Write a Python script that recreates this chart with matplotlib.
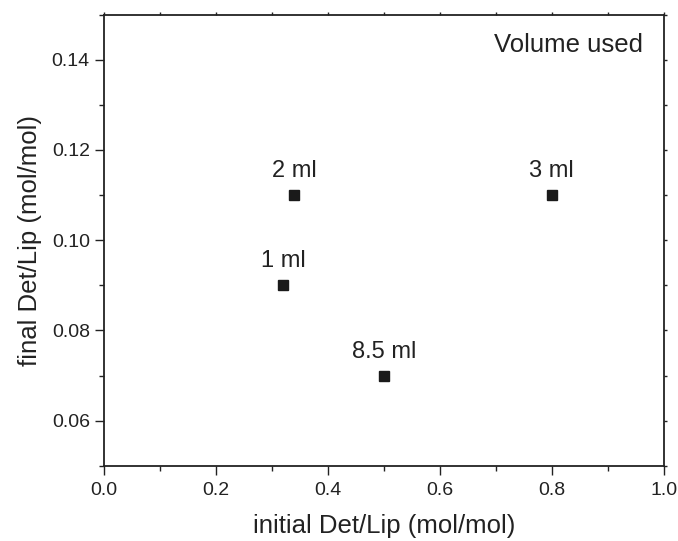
import matplotlib
matplotlib.use("Agg")
import matplotlib.pyplot as plt
from matplotlib.ticker import MultipleLocator

plt.rcParams['font.family'] = ['Liberation Sans', 'DejaVu Sans']

initial = [0.32, 0.34, 0.50, 0.80]
final = [0.09, 0.11, 0.07, 0.11]
labels = ["1 ml", "2 ml", "8.5 ml", "3 ml"]

fig = plt.figure(figsize=(6.78, 5.41), dpi=100)
ax = fig.add_axes([0.153, 0.139, 0.826, 0.834])
ax.plot(initial, final, linestyle='none', marker='s', markersize=7, color='#1a1a1a')
for x, y, t in zip(initial, final, labels):
    ax.annotate(t, (x, y), xytext=(0, 13), textcoords='offset points',
                ha='center', va='baseline', fontsize=17, color='#222222')

ax.text(0.963, 0.917, "Volume used", transform=ax.transAxes, ha='right', va='baseline',
        fontsize=18.5, color='#222222')

ax.set_xlim(0.0, 1.0)
ax.set_ylim(0.05, 0.15)
ax.xaxis.set_major_locator(MultipleLocator(0.2))
ax.xaxis.set_minor_locator(MultipleLocator(0.1))
ax.yaxis.set_minor_locator(MultipleLocator(0.01))
ax.set_yticks([0.06, 0.08, 0.10, 0.12, 0.14])
ax.xaxis.set_major_formatter(plt.FuncFormatter(lambda v, p: f"{v:.1f}"))
ax.yaxis.set_major_formatter(plt.FuncFormatter(lambda v, p: f"{v:.2f}"))

ax.tick_params(which='major', direction='out', length=6.5, width=1, labelsize=14,
               colors='#222222')
ax.tick_params(axis='x', which='major', pad=5)
ax.tick_params(axis='y', which='major', pad=3.5)
ax.tick_params(which='minor', direction='out', length=3.5, width=1, colors='#222222')
ax.tick_params(axis='x', which='both', top=True)
ax.tick_params(axis='y', which='both', right=True)
for sp in ax.spines.values():
    sp.set_linewidth(1.3)
    sp.set_color('#222222')

# top/right ticks are tiny
for tick in ax.xaxis.get_major_ticks() + ax.xaxis.get_minor_ticks():
    tick.tick2line.set_markersize(2)
for tick in ax.yaxis.get_major_ticks() + ax.yaxis.get_minor_ticks():
    tick.tick2line.set_markersize(2)

ax.set_xlabel("initial Det/Lip (mol/mol)", fontsize=18.5, color='#222222', labelpad=11)
ax.set_ylabel("final Det/Lip (mol/mol)", fontsize=18.5, color='#222222', labelpad=7)

fig.savefig("out.png", dpi=100)
